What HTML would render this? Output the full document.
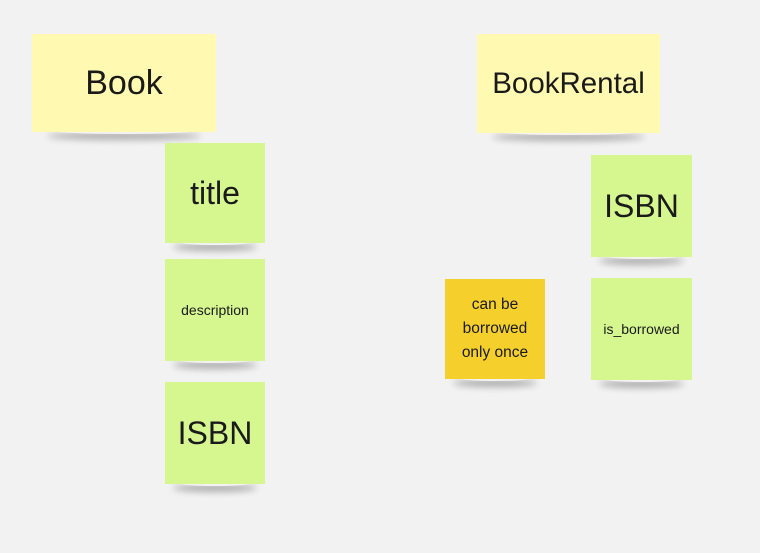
<!DOCTYPE html>
<html><head><meta charset="utf-8"><style>
html,body{margin:0;padding:0}
body{width:760px;height:553px;background:#f2f2f2;position:relative;overflow:hidden;font-family:"Liberation Sans","DejaVu Sans",sans-serif;color:#1a1a1a}
.n{position:absolute;display:flex;align-items:center;justify-content:center;text-align:center;box-sizing:border-box}
.n::after{content:"";position:absolute;left:8%;right:8%;bottom:-2px;height:8px;box-shadow:0 6px 7px rgba(0,0,0,0.28);border-radius:50%;z-index:-1}
.y{background:#fff9b1}
.g{background:#d6f68f}
.o{background:#f5cf2b}
</style></head><body>
<div class="n y" style="left:32px;top:34px;width:184px;height:98px;font-size:34px">Book</div>
<div class="n y" style="left:477px;top:34px;width:183px;height:99px;font-size:29.5px">BookRental</div>
<div class="n g" style="left:165px;top:143px;width:100px;height:100px;font-size:32px">title</div>
<div class="n g" style="left:165px;top:259px;width:100px;height:102px;font-size:14px">description</div>
<div class="n g" style="left:165px;top:382px;width:100px;height:102px;font-size:32px">ISBN</div>
<div class="n g" style="left:591px;top:155px;width:101px;height:102px;font-size:32px">ISBN</div>
<div class="n g" style="left:591px;top:278px;width:101px;height:102px;font-size:14px">is_borrowed</div>
<div class="n o" style="left:445px;top:279px;width:100px;height:100px;font-size:15.5px;line-height:24px">can be<br>borrowed<br>only once</div>
</body></html>
